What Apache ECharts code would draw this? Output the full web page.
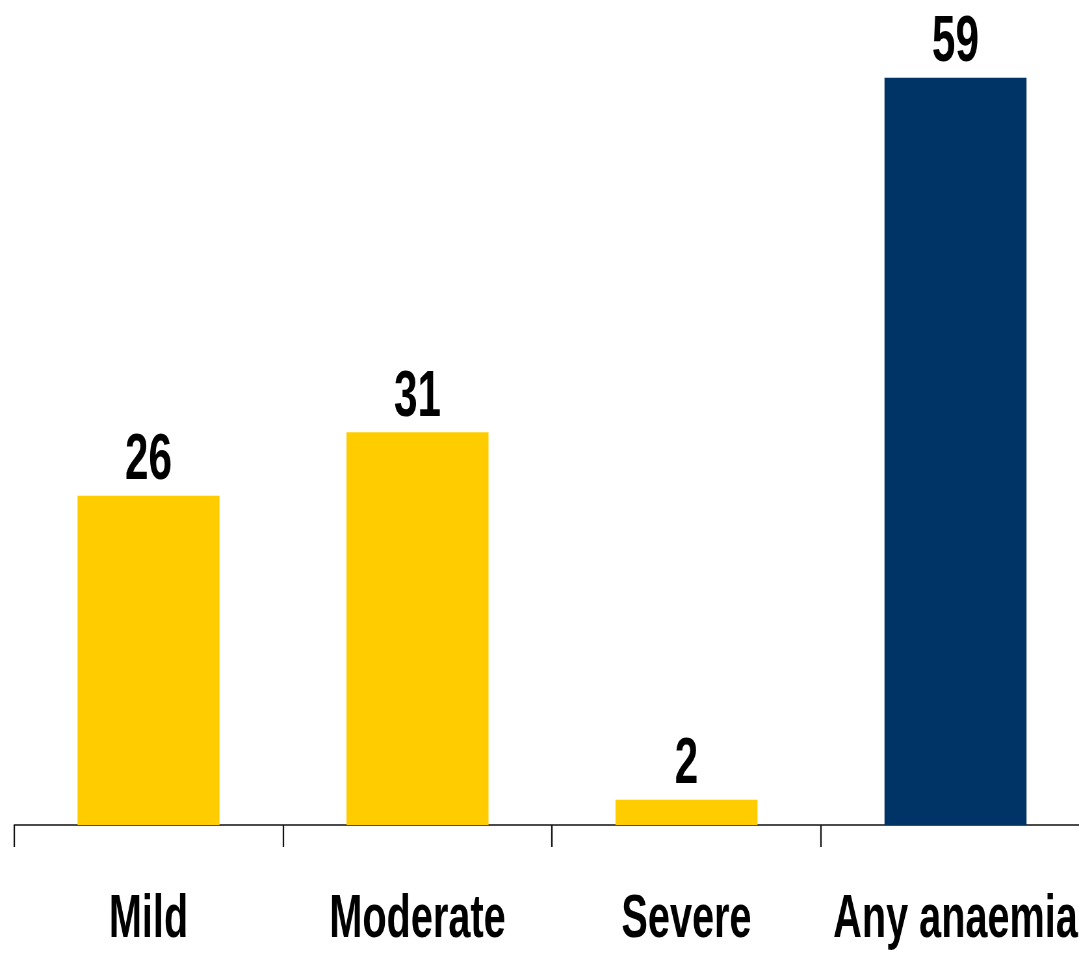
<!DOCTYPE html>
<html>
<head>
<meta charset="utf-8">
<script src="https://cdn.jsdelivr.net/npm/echarts@6/dist/echarts.min.js"></script>
<style>
html,body{margin:0;padding:0;background:#fff;overflow:hidden;width:1079px;height:953px;}
#wrap{width:1079px;height:953px;overflow:hidden;position:relative;}
#c{position:absolute;left:0;top:0;height:953px;transform-origin:0 0;}
</style>
</head>
<body>
<div id="wrap"><div id="c"></div></div>
<script>
const categories = ['Mild', 'Moderate', 'Severe', 'Any anaemia'];
const values = [26, 31, 2, 59];
const barColors = ['#FFCC00', '#FFCC00', '#FFCC00', '#003366'];

// Horizontal condensing factor to mimic a condensed bold typeface
const S = 0.65;
const el = document.getElementById('c');
el.style.width = (1120 / S) + 'px';
el.style.transform = 'scaleX(' + S + ')';

const FONT = '"Liberation Sans", Arial, Helvetica, sans-serif';
const chart = echarts.init(el);
chart.setOption({
  animation: false,
  grid: { left: 14 / S, width: 1076 / S, top: 65, bottom: 128, containLabel: false },
  xAxis: {
    type: 'category',
    data: categories,
    boundaryGap: true,
    axisLine: { show: true, lineStyle: { color: '#111', width: 1.5 } },
    axisTick: { show: true, length: 22, lineStyle: { color: '#111', width: 1.5 / S } },
    axisLabel: { margin: 65, color: '#000', fontSize: 61, lineHeight: 61, fontWeight: 'bold', fontFamily: FONT, interval: 0 },
    splitLine: { show: false }
  },
  yAxis: { type: 'value', min: 0, max: 60, show: false, splitLine: { show: false } },
  series: [{
    type: 'bar',
    barWidth: 142 / S,
    data: values.map((v, i) => ({ value: v, itemStyle: { color: barColors[i] } })),
    label: { show: true, position: 'top', distance: 2, color: '#000', fontSize: 65, fontWeight: 'bold', fontFamily: FONT }
  }]
});
</script>
</body>
</html>
